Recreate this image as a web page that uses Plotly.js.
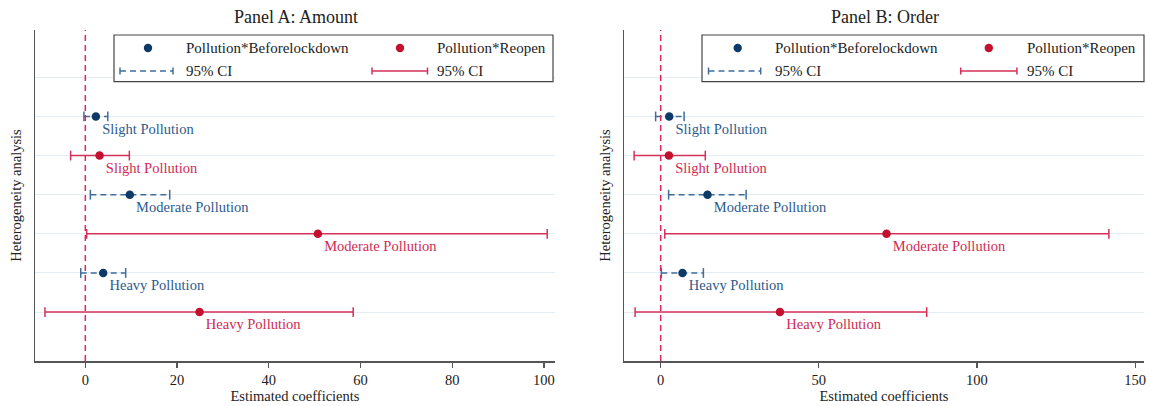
<!DOCTYPE html>
<html>
<head>
<meta charset="utf-8">
<script src="https://cdn.plot.ly/plotly-3.0.1.min.js"></script>
<style>html,body{margin:0;padding:0;background:#fff;}#chart{width:1149px;height:406px;}</style>
</head>
<body>
<div id="chart"></div>
<script>
// ---------- data ----------
const categories = ["Slight Pollution", "Moderate Pollution", "Heavy Pollution"];
const seriesNames = ["Pollution*Beforelockdown", "Pollution*Reopen"];
const ciLabel = "95% CI";
const panelTitles = ["Panel A: Amount", "Panel B: Order"];
const xTitle = "Estimated coefficients";
const yTitle = "Heterogeneity analysis";

// Panel A: Amount
const amountBeforeCoef = [2.3, 9.7, 3.9];
const amountBeforeLo   = [-0.3, 1.1, -1.0];
const amountBeforeHi   = [4.9, 18.4, 8.8];
const amountReopenCoef = [3.1, 50.7, 24.9];
const amountReopenLo   = [-3.2, 0.3, -8.8];
const amountReopenHi   = [9.6, 100.7, 58.4];

// Panel B: Order
const orderBeforeCoef = [2.7, 14.8, 6.9];
const orderBeforeLo   = [-1.6, 2.5, 0.2];
const orderBeforeHi   = [7.4, 27.0, 13.5];
const orderReopenCoef = [2.6, 71.4, 37.7];
const orderReopenLo   = [-8.4, 1.3, -8.1];
const orderReopenHi   = [14.1, 141.7, 84.1];

const amountTicks = [0, 20, 40, 60, 80, 100];
const orderTicks  = [0, 50, 100, 150];
const referenceValue = 0;

// ---------- style ----------
const W = 1149, H = 406;
const FONT = "Liberation Serif, Times New Roman, serif";
const FS = 14.5;
const BLUE_MK = "#0e3a6a", BLUE_LN = "#3f6e9c", BLUE_TX = "#2c5b8c";
const RED_MK = "#c3102e", RED_LN = "#d43058", RED_TX = "#d12a52";
const AXIS = "#555555";
const px = v => v / W;
const py = v => 1 - v / H;

// rows: each category has a "before" row followed by a "reopen" row
const beforeRows = categories.map((c, i) => 2 * i + 1);
const reopenRows = categories.map((c, i) => 2 * i + 2);

function ciTrace(lo, hi, rows, color, dash, xa, ya) {
  const x = [], y = [];
  lo.forEach((l, i) => { x.push(l, hi[i], null); y.push(rows[i], rows[i], null); });
  return {
    type: "scatter", mode: "lines+markers", x, y, xaxis: xa, yaxis: ya,
    line: {color, width: 1.5, dash}, marker: {symbol: "line-ns-open", size: 7, line: {color, width: 1.5}, color},
    hoverinfo: "skip", showlegend: false
  };
}
function ptTrace(coef, rows, mk, tx, xa, ya) {
  return {
    type: "scatter", mode: "markers+text", x: coef, y: rows, xaxis: xa, yaxis: ya,
    marker: {color: mk, size: 8.5},
    text: categories, textposition: "bottom right",
    textfont: {family: FONT, size: FS, color: tx},
    showlegend: false
  };
}

const traces = [
  ciTrace(amountBeforeLo, amountBeforeHi, beforeRows, BLUE_LN, "6px,4px", "x", "y"),
  ciTrace(amountReopenLo, amountReopenHi, reopenRows, RED_LN, "solid", "x", "y"),
  ptTrace(amountBeforeCoef, beforeRows, BLUE_MK, BLUE_TX, "x", "y"),
  ptTrace(amountReopenCoef, reopenRows, RED_MK, RED_TX, "x", "y"),
  ciTrace(orderBeforeLo, orderBeforeHi, beforeRows, BLUE_LN, "6px,4px", "x2", "y2"),
  ciTrace(orderReopenLo, orderReopenHi, reopenRows, RED_LN, "solid", "x2", "y2"),
  ptTrace(orderBeforeCoef, beforeRows, BLUE_MK, BLUE_TX, "x2", "y2"),
  ptTrace(orderReopenCoef, reopenRows, RED_MK, RED_TX, "x2", "y2")
];

const gridRows = [0].concat(beforeRows.flatMap((r, i) => [r, reopenRows[i]]));

function xAxis(domain, range, ticks, anchor) {
  return {
    domain, range, anchor, tickvals: ticks, ticktext: ticks.map(String),
    ticks: "outside", ticklen: 5, tickwidth: 1.2, tickcolor: AXIS,
    showline: true, linecolor: AXIS, linewidth: 1.5, showgrid: false, zeroline: false,
    tickfont: {family: FONT, size: FS, color: "#222"},
    title: {text: xTitle, font: {family: FONT, size: FS, color: "#222"}, standoff: 1}
  };
}
function yAxis(domain, anchor) {
  return {
    domain, range: [7.25, -1.21], anchor, tickvals: gridRows, showticklabels: false, ticks: "",
    showgrid: true, gridcolor: "#e5edf4", gridwidth: 1,
    showline: true, linecolor: AXIS, linewidth: 1.5, zeroline: false,
    title: {text: yTitle, font: {family: FONT, size: FS, color: "#222"}, standoff: 8}
  };
}

const yDom = [py(361), py(30)];
const layout = {
  width: W, height: H, margin: {l: 0, r: 0, t: 0, b: 0},
  paper_bgcolor: "#fff", plot_bgcolor: "#fff", showlegend: false,
  font: {family: FONT, color: "#222"},
  xaxis: xAxis([px(35), px(555)], [-10.97, 102.4], amountTicks, "y"),
  yaxis: yAxis(yDom, "x"),
  xaxis2: xAxis([px(624), px(1144)], [-11.6, 152.8], orderTicks, "y2"),
  yaxis2: yAxis(yDom, "x2"),
  shapes: [], annotations: []
};

// reference line at zero
["x", "x2"].forEach((xa, k) => {
  layout.shapes.push({type: "line", xref: xa, yref: (k ? "y2" : "y") + " domain",
    x0: referenceValue, x1: referenceValue, y0: 0, y1: 1,
    line: {color: "#e0245a", width: 1.5, dash: "6px,4px"}, layer: "above"});
});

// panel titles
[[296, 17], [885, 17]].forEach((p, k) => {
  layout.annotations.push({xref: "paper", yref: "paper", x: px(p[0]), y: py(p[1]),
    text: panelTitles[k], showarrow: false, xanchor: "center", yanchor: "middle",
    font: {family: FONT, size: 18, color: "#222"}});
});

// legends (drawn as boxes)
function legend(box, dotB, txtB, dotR, txtR, lineB, lineR) {
  const [x0, x1, y0, y1] = box;
  layout.shapes.push({type: "rect", xref: "paper", yref: "paper", x0: px(x0), x1: px(x1), y0: py(y1), y1: py(y0),
    line: {color: "#444", width: 1.2}, fillcolor: "#fff", layer: "above"});
  const r1 = 48, r2 = 71;
  [[dotB, BLUE_MK], [dotR, RED_MK]].forEach(([cx, col]) => {
    layout.shapes.push({type: "circle", xref: "paper", yref: "paper", xsizemode: "pixel", ysizemode: "pixel",
      xanchor: px(cx), yanchor: py(r1), x0: -4.2, x1: 4.2, y0: -4.2, y1: 4.2,
      fillcolor: col, line: {color: col, width: 0}, layer: "above"});
  });
  [[lineB, BLUE_LN, "6px,4px"], [lineR, RED_LN, "solid"]].forEach(([seg, col, dash]) => {
    layout.shapes.push({type: "line", xref: "paper", yref: "paper", x0: px(seg[0]), x1: px(seg[1]), y0: py(r2), y1: py(r2),
      line: {color: col, width: 1.5, dash}, layer: "above"});
    seg.forEach(sx => layout.shapes.push({type: "line", xref: "paper", yref: "paper", x0: px(sx), x1: px(sx),
      y0: py(r2 - 3.5), y1: py(r2 + 3.5), line: {color: col, width: 1.5}, layer: "above"}));
  });
  [[txtB, r1, seriesNames[0]], [txtR, r1, seriesNames[1]], [txtB, r2, ciLabel], [txtR, r2, ciLabel]].forEach(([tx, ty, t]) => {
    layout.annotations.push({xref: "paper", yref: "paper", x: px(tx), y: py(ty), text: t, showarrow: false,
      xanchor: "left", yanchor: "middle", font: {family: FONT, size: 15, color: "#222"}});
  });
}
legend([114, 553, 35, 81.7], 148, 184, 400, 435, [120, 173], [372, 427.5]);
legend([702, 1144, 35, 81.7], 737.7, 772.5, 988.8, 1025, [708.5, 760.7], [960.7, 1016.9]);

Plotly.newPlot("chart", traces, layout, {displayModeBar: false, staticPlot: true});
</script>
</body>
</html>
